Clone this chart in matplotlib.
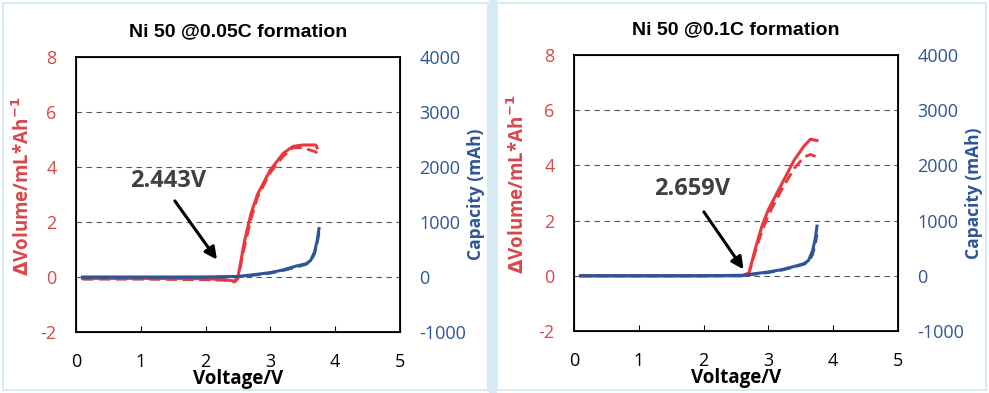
import numpy as np
import matplotlib.pyplot as plt
from matplotlib.patches import Rectangle

plt.rcParams['axes.unicode_minus'] = False
plt.rcParams['font.family'] = ['Open Sans', 'DejaVu Sans']

# ---- data ----
titles = ['Ni 50 @0.05C formation', 'Ni 50 @0.1C formation']
onset_labels = ['2.443V', '2.659V']

# left panel, 0.05C
v_dv_a1 = [0.1, 1.0, 2.0, 2.3, 2.45, 2.5, 2.6, 2.7, 2.8, 3.0, 3.2, 3.35, 3.5, 3.7, 3.72]
dv_a1 = [-0.05, -0.05, -0.06, -0.1, -0.15, 0.0, 1.3, 2.3, 3.0, 3.9, 4.5, 4.75, 4.8, 4.8, 4.7]
v_dv_a2 = [0.1, 1.0, 2.0, 2.3, 2.45, 2.5, 2.6, 2.7, 2.8, 3.0, 3.2, 3.35, 3.5, 3.7, 3.72]
dv_a2 = [-0.08, -0.08, -0.1, -0.12, -0.18, -0.05, 1.1, 2.1, 2.9, 3.8, 4.4, 4.7, 4.7, 4.55, 4.5]
v_cap_a1 = [0.1, 1.0, 2.0, 2.5, 2.8, 3.0, 3.2, 3.4, 3.55, 3.62, 3.68, 3.72, 3.75]
cap_a1 = [0, 0, 0, 10, 50, 80, 130, 200, 240, 300, 450, 650, 880]
v_cap_a2 = [0.1, 1.0, 2.0, 2.5, 2.8, 3.0, 3.2, 3.4, 3.55, 3.62, 3.68, 3.72, 3.75]
cap_a2 = [-10, -10, -5, 5, 40, 70, 120, 180, 230, 280, 420, 600, 800]

# right panel, 0.1C
v_dv_b1 = [0.1, 1.0, 2.0, 2.6, 2.7, 2.8, 2.9, 3.0, 3.2, 3.4, 3.55, 3.65, 3.75]
dv_b1 = [0.0, 0.0, 0.0, 0.0, 0.1, 1.0, 1.8, 2.4, 3.3, 4.2, 4.7, 4.95, 4.9]
v_dv_b2 = [0.1, 1.0, 2.0, 2.6, 2.7, 2.8, 2.9, 3.0, 3.2, 3.4, 3.55, 3.65, 3.75]
dv_b2 = [0.0, 0.0, 0.0, 0.0, 0.1, 0.9, 1.6, 2.2, 3.1, 3.9, 4.3, 4.4, 4.3]
v_cap_b1 = [0.1, 1.0, 2.0, 2.6, 2.8, 3.0, 3.2, 3.4, 3.55, 3.62, 3.68, 3.72, 3.75]
cap_b1 = [0, 0, 0, 10, 40, 70, 110, 170, 220, 280, 450, 650, 900]
v_cap_b2 = [0.1, 1.0, 2.0, 2.6, 2.8, 3.0, 3.2, 3.4, 3.55, 3.62, 3.68, 3.72, 3.75]
cap_b2 = [0, 0, 0, 5, 30, 60, 100, 160, 210, 260, 380, 550, 750]

text_pos = [(1.42, 3.5), (1.82, 3.15)]
arrow_from = [(1.5, 2.85), (1.98, 2.4)]
arrow_to = [(2.2, 0.55), (2.64, 0.15)]

red = '#e8383d'
red_txt = '#d9474a'
blue = '#2f5597'
edge_blue = '#d6ebf5'

fig = plt.figure(figsize=(9.89, 3.93), dpi=100)
fig.patch.set_facecolor('white')
# light blue frames around the two panels
fig.patches.append(Rectangle((0.003, 0.008), 0.490, 0.985, transform=fig.transFigure,
                             fill=False, ec=edge_blue, lw=1.5))
fig.patches.append(Rectangle((0.494, 0.0), 0.009, 1.0, transform=fig.transFigure,
                             fc=edge_blue, ec='none'))
fig.patches.append(Rectangle((0.503, 0.008), 0.494, 0.985, transform=fig.transFigure,
                             fill=False, ec=edge_blue, lw=1.5))

panels = [
    (v_dv_a1, dv_a1, v_dv_a2, dv_a2, v_cap_a1, cap_a1, v_cap_a2, cap_a2),
    (v_dv_b1, dv_b1, v_dv_b2, dv_b2, v_cap_b1, cap_b1, v_cap_b2, cap_b2),
]
rects = [[76 / 989, 1 - 332 / 393, 324 / 989, 275 / 393],
         [574 / 989, 1 - 331 / 393, 324 / 989, 276 / 393]]
left_lab_x = [-0.13, -0.139]
right_lab_x = [1.207, 1.207]

for k, (vd1, d1, vd2, d2, vc1, c1, vc2, c2) in enumerate(panels):
    ax = fig.add_axes(rects[k])
    ax2 = ax.twinx()

    for y in [0, 2, 4, 6]:
        ax.axhline(y, color='#555555', ls=(0, (5, 4)), lw=0.8, zorder=0)

    ax.plot(vd1, d1, color=red, lw=2.2, zorder=3)
    ax.plot(vd2, d2, color=red, lw=2.0, ls=(0, (4, 2)), zorder=3)
    ax2.plot(vc1, c1, color=blue, lw=2.2, zorder=3)
    ax2.plot(vc2, c2, color=blue, lw=2.0, ls=(0, (4, 2)), zorder=3)

    ax.set_xlim(0, 5)
    ax.set_ylim(-2, 8)
    ax2.set_ylim(-1000, 4000)
    ax.set_xticks(range(6))
    ax.set_yticks(range(-2, 9, 2))
    ax2.set_yticks(range(-1000, 4001, 1000))

    ax.tick_params(axis='x', direction='in', length=4, labelsize=13, pad=15)
    ax.tick_params(axis='y', length=0, labelsize=13, labelcolor=red_txt, pad=14)
    ax2.tick_params(axis='y', length=0, labelsize=13, labelcolor=blue, pad=14)
    for sp in ax.spines.values():
        sp.set_linewidth(1.3)

    ax.set_xlabel('Voltage/V', fontsize=13.5, fontweight='bold')
    ax.xaxis.set_label_coords(0.5, -0.135)
    ax.set_ylabel(r'$\mathbf{\Delta}$Volume/mL*Ah$^{\mathbf{-1}}$', fontsize=13.5,
                  fontweight='bold', color=red_txt)
    ax.yaxis.set_label_coords(left_lab_x[k], 0.53)
    ax2.set_ylabel('Capacity (mAh)', fontsize=12.5, fontweight='bold', color=blue)
    ax2.yaxis.set_label_coords(right_lab_x[k], 0.5)
    ax.set_title(titles[k], fontsize=14, fontweight='bold', pad=15,
                 family=['Liberation Sans', 'DejaVu Sans'])

    ax.text(text_pos[k][0], text_pos[k][1], onset_labels[k], fontsize=17,
            fontweight='bold', color='#404040', ha='center', va='center', zorder=5)
    ax.annotate('', xy=arrow_to[k], xytext=arrow_from[k],
                arrowprops=dict(arrowstyle='-|>', color='black', lw=2.2,
                                mutation_scale=18), zorder=5)

    ax.set_zorder(ax2.get_zorder() - 1)
    ax.patch.set_visible(False)
    ax2.patch.set_visible(False)

fig.savefig('out.png', dpi=100)
